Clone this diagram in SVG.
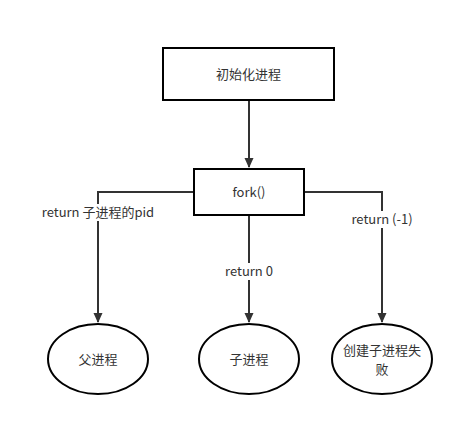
<svg xmlns="http://www.w3.org/2000/svg" width="464" height="427" viewBox="0 0 464 427">
<style>
.n{fill:#fff;stroke:#000;stroke-width:2}
.c{fill:none;stroke:#333;stroke-width:2}
text{font-family:"Noto Sans CJK SC","Noto Sans",sans-serif;font-size:13px;fill:#333;text-anchor:middle}
.lb{fill:#fff}
</style>
<defs>
<marker id="a" markerWidth="11" markerHeight="12" refX="9" refY="5.5" orient="auto" markerUnits="userSpaceOnUse">
<path d="M0,1 L10,5.5 L0,10 Z" fill="#333"/>
</marker>
</defs>
<rect width="464" height="427" fill="#fff"/>
<g id="connectors">
<path class="c" d="M249,101 V167" marker-end="url(#a)"/>
<path class="c" d="M194,192 H98 V322" marker-end="url(#a)"/>
<path class="c" d="M249,216 V322" marker-end="url(#a)"/>
<path class="c" d="M304,192 H382 V322" marker-end="url(#a)"/>
<rect class="lb" x="36" y="204" width="124" height="17"/>
<text x="98" y="217">return 子进程的pid</text>
<rect class="lb" x="218" y="263" width="62" height="17"/>
<text x="249" y="276">return 0</text>
<rect class="lb" x="343" y="211" width="78" height="17"/>
<text x="382" y="224">return (-1)</text>
</g>
<g id="init"><rect class="n" x="163" y="48" width="171" height="52"/><text x="248.5" y="79">初始化进程</text></g>
<g id="fork"><rect class="n" x="194" y="169" width="110" height="46"/><text x="249" y="197">fork()</text></g>
<g id="parent"><ellipse class="n" cx="98" cy="359" rx="50" ry="35"/><text x="98" y="364">父进程</text></g>
<g id="child"><ellipse class="n" cx="249" cy="359" rx="50" ry="35"/><text x="249" y="364">子进程</text></g>
<g id="fail"><ellipse class="n" cx="382" cy="359" rx="50" ry="35"/><text x="382" y="355">创建子进程失</text><text x="382" y="374">败</text></g>
</svg>
